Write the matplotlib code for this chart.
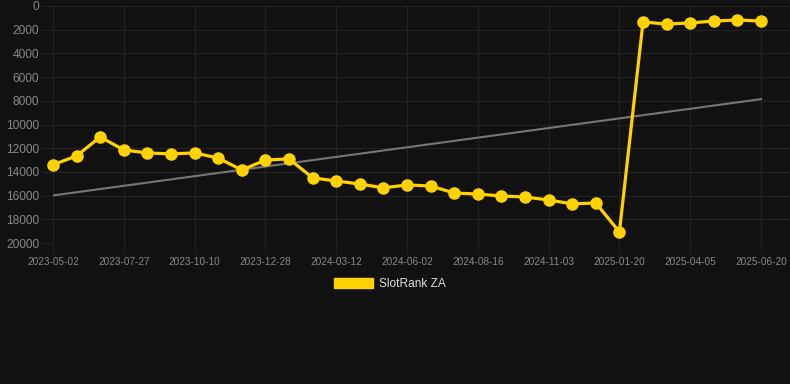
import numpy as np
import matplotlib
matplotlib.use("Agg")
from matplotlib import pyplot as plt
from matplotlib.patches import Patch

# Datos
dates = ["2023-05-02", "2023-05-21", "2023-06-09", "2023-07-27", "2023-08-15", "2023-09-03",
         "2023-10-10", "2023-10-29", "2023-11-17", "2023-12-28", "2024-01-16", "2024-02-04",
         "2024-03-12", "2024-03-31", "2024-04-19", "2024-06-02", "2024-06-21", "2024-07-10",
         "2024-08-16", "2024-09-04", "2024-09-23", "2024-11-03", "2024-11-22", "2024-12-11",
         "2025-01-20", "2025-02-08", "2025-02-27", "2025-04-05", "2025-04-24", "2025-05-13",
         "2025-06-20"]
rank = [13400, 12650, 11050, 12150, 12400, 12480, 12400, 12830, 13840, 13000, 12900,
        14500, 14770, 15020, 15350, 15100, 15190, 15780, 15870, 16030, 16120, 16370,
        16700, 16620, 19070, 1350, 1520, 1430, 1270, 1180, 1270]
label_step = 3
series_name = "SlotRank ZA"

bg = "#111111"
grid = "#222222"
yellow = "#FFD200"

x = np.arange(len(rank))
c = np.polyfit(x, rank, 1)

fig = plt.figure(figsize=(7.9, 3.84), dpi=100, facecolor=bg)
ax: plt.Axes = fig.add_axes([53 / 790, 1 - 243 / 384, 1 - 53 / 790, 237 / 384])
ax.set_facecolor(bg)

ax.plot(x, c[0] * x + c[1], color="#777777", lw=1.5, zorder=2)
ax.plot(x, rank, color=yellow, lw=2.3, marker="o", ms=8, zorder=3, clip_on=False)

ax.set_xlim(0, (790 - 53) / 23.6)
ax.set_ylim(20000, 0)
ax.set_yticks(range(0, 20001, 2000))
ax.set_xticks(x[::label_step])
ax.set_xticklabels(dates[::label_step])
ax.grid(True, color=grid, lw=0.8)
for s in ax.spines.values():
    s.set_visible(False)
ax.tick_params(axis="y", colors=grid, labelcolor="#888888", labelsize=8.6, length=9, width=0.8, pad=1)
ax.tick_params(axis="x", colors=grid, labelcolor="#888888", labelsize=7.2, length=7, width=0.8, pad=3)
for t in ax.get_xticklabels() + ax.get_yticklabels():
    t.set_family(["Liberation Sans", "DejaVu Sans"])

fig.legend(handles=[Patch(color=yellow, label=series_name)], loc="center",
           bbox_to_anchor=(390 / 790, 1 - 284 / 384), frameon=False,
           prop={"family": "Liberation Sans", "size": 8.6}, labelcolor="#dddddd",
           handlelength=3.3, handleheight=0.85, handletextpad=0.5)

fig.savefig("out.png", dpi=100, facecolor=bg)
